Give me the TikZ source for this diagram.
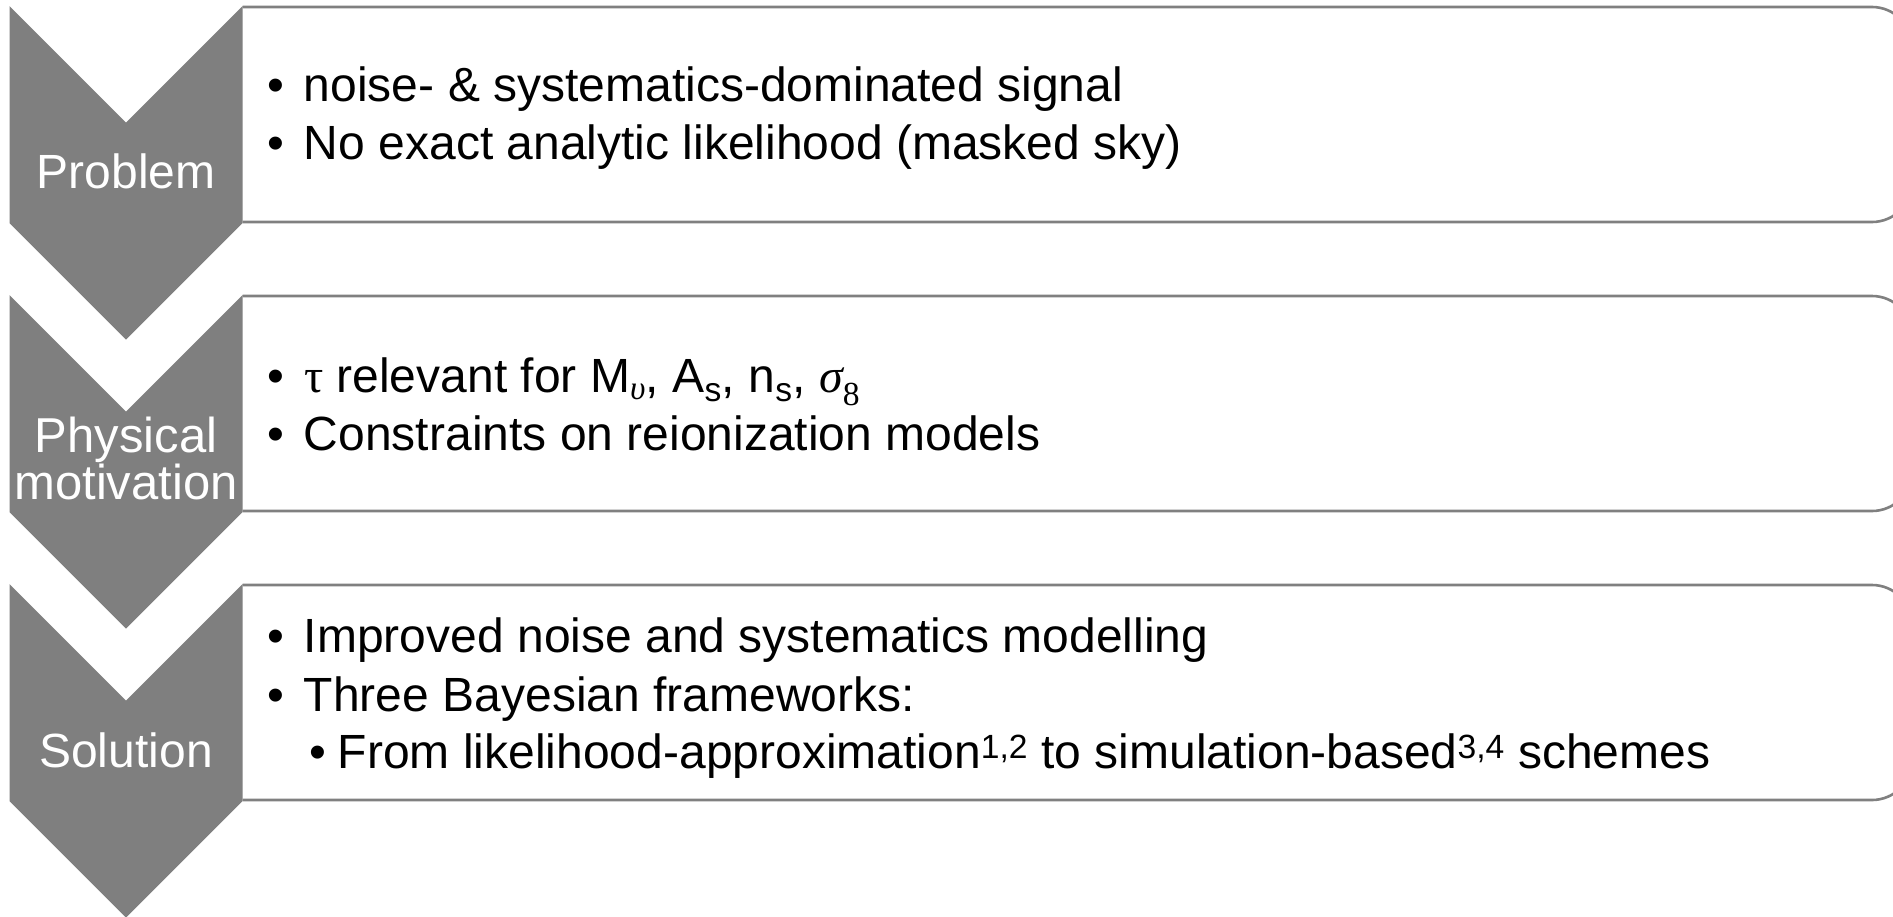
\documentclass[tikz,border=0pt]{standalone}
\usepackage{fontspec}
\setmainfont{Liberation Sans}
\newfontfamily\grkfont{Liberation Serif}
\definecolor{chevgray}{RGB}{127,127,127}
\definecolor{linegray}{RGB}{128,128,128}
\newcommand{\bul}[1]{\makebox[37pt][l]{•}#1}
\newcommand{\subbul}[1]{\makebox[29pt][l]{•}#1}
\begin{document}
\begin{tikzpicture}[x=1pt,y=-1pt,
  chev/.style={fill=chevgray,draw=none},
  boxline/.style={draw=linegray,line width=2.6pt,rounded corners=40pt},
  lbl/.style={text=white,inner sep=0pt,outer sep=0pt,anchor=base,font=\fontsize{48}{40}\selectfont},
  body/.style={inner sep=0pt,outer sep=0pt,anchor=base west,font=\fontsize{48}{58}\selectfont}]
\useasboundingbox (0,0) rectangle (1893,916);
\clip (0,0) rectangle (1893,916);
\fill[white] (0,0) rectangle (1893,916);
% boxes
\foreach \T in {6,295,584}{
  \draw[boxline] (242.5,\T+1) -- (1912,\T+1) -- (1912,\T+216) -- (242.5,\T+216);
}
% chevrons
\foreach \T in {6,295,584}{
  \path[chev] (9.5,\T) -- (126,\T+116.5) -- (242.5,\T) -- (242.5,\T+217) -- (126,\T+333.5) -- (9.5,\T+217) -- cycle;
}
% labels
\node[lbl] (l1) at (126,188) {Problem};
\node[lbl,font=\fontsize{49}{40}\selectfont] (l2a) at (126,452) {Physical};
\node[lbl,font=\fontsize{49}{40}\selectfont] (l2b) at (126,499) {motivation};
\node[lbl] (l3) at (126,767) {Solution};
% box 1
\node[body] (t11) at (267,101) {\bul{noise- \& systematics-dominated signal}};
\node[body] (t12) at (267,159) {\bul{No exact analytic likelihood (masked sky)}};
% box 2
\node[body] (t21) at (267,392) {\bul{{\grkfont τ} relevant for M\textsubscript{\grkfont\itshape υ}, A\textsubscript{s}, n\textsubscript{s}, {\grkfont\itshape σ}\textsubscript{\grkfont 8}}};
\node[body] (t22) at (267,450) {\bul{Constraints on reionization models}};
% box 3
\node[body] (t31) at (267,652) {\bul{Improved noise and systematics modelling}};
\node[body] (t32) at (267,711) {\bul{Three Bayesian frameworks:}};
\node[body] (t33) at (309,768) {\subbul{From likelihood-approximation\textsuperscript{1,2} to simulation-based\textsuperscript{3,4} schemes}};
\end{tikzpicture}
\end{document}
